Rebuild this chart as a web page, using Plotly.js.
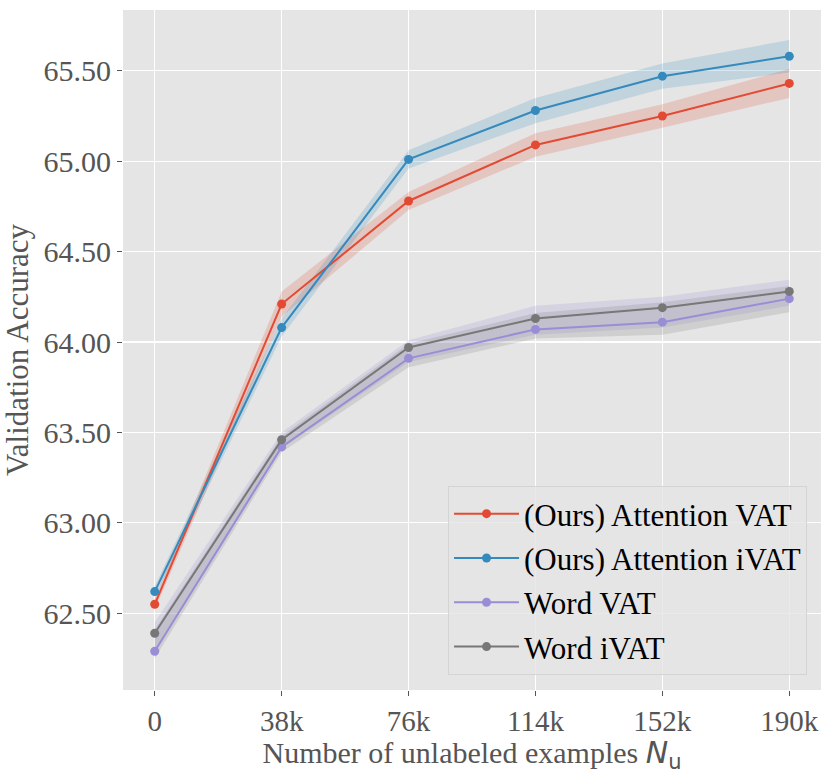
<!DOCTYPE html>
<html>
<head>
<meta charset="utf-8">
<script src="https://cdn.plot.ly/plotly-3.0.1.min.js"></script>
<style>
  html, body { margin: 0; padding: 0; background: #fff; }
  #chart { width: 831px; height: 774px; }
</style>
</head>
<body>
<div id="chart"></div>
<script>
const examples = [0, 38000, 76000, 114000, 152000, 190000];
const exampleLabels = ['0', '38k', '76k', '114k', '152k', '190k'];

const attnVat = [62.55, 64.21, 64.78, 65.09, 65.25, 65.43];
const attnVatStd = [0.03, 0.07, 0.05, 0.065, 0.065, 0.08];

const attnIvat = [62.62, 64.08, 65.01, 65.28, 65.47, 65.58];
const attnIvatStd = [0.03, 0.05, 0.05, 0.07, 0.07, 0.09];

const wordVat = [62.29, 63.42, 63.91, 64.07, 64.11, 64.24];
const wordVatLo = [62.28, 63.41, 63.89, 64.04, 64.08, 64.20];
const wordVatHi = [62.45, 63.50, 64.01, 64.20, 64.25, 64.345];

const wordIvat = [62.39, 63.46, 63.97, 64.13, 64.19, 64.28];
const wordIvatLo = [62.25, 63.39, 63.86, 64.02, 64.04, 64.165];
const wordIvatHi = [62.41, 63.48, 63.99, 64.16, 64.22, 64.31];

const serif = 'Liberation Serif, Times New Roman, serif';

const colors = {
    red: '#E24A33',
    blue: '#348ABD',
    purple: '#988ED5',
    gray: '#777777'
};

function band(lo, hi, fill) {
    return {
        x: examples.concat(examples.slice().reverse()),
        y: hi.concat(lo.slice().reverse()),
        type: 'scatter',
        mode: 'lines',
        fill: 'toself',
        fillcolor: fill,
        line: { width: 0, color: 'rgba(0,0,0,0)' },
        hoverinfo: 'skip',
        showlegend: false
    };
}

function series(name, values, color, group) {
    return {
        x: examples,
        y: values,
        name: name,
        legendgroup: group,
        type: 'scatter',
        mode: 'lines+markers',
        line: { color: color, width: 2 },
        marker: { color: color, size: 9 }
    };
}

function lo(v, s) { return v.map((d, i) => d - s[i]); }
function hi(v, s) { return v.map((d, i) => d + s[i]); }

const traces = [
    band(lo(attnVat, attnVatStd), hi(attnVat, attnVatStd), 'rgba(226,74,51,0.2)'),
    band(lo(attnIvat, attnIvatStd), hi(attnIvat, attnIvatStd), 'rgba(52,138,189,0.2)'),
    band(wordVatLo, wordVatHi, 'rgba(152,142,213,0.2)'),
    band(wordIvatLo, wordIvatHi, 'rgba(119,119,119,0.2)'),
    series('(Ours) Attention VAT', attnVat, colors.red, 'a'),
    series('(Ours) Attention iVAT', attnIvat, colors.blue, 'b'),
    series('Word VAT', wordVat, colors.purple, 'c'),
    series('Word iVAT', wordIvat, colors.gray, 'd')
];

const layout = {
    width: 831,
    height: 774,
    margin: { l: 123, r: 10, t: 10, b: 84 },
    paper_bgcolor: '#ffffff',
    plot_bgcolor: '#E5E5E5',
    font: { family: serif, size: 30, color: '#555555' },
    showlegend: true,
    xaxis: {
        range: [-9500, 199500],
        tickvals: examples,
        ticktext: exampleLabels,
        showgrid: true,
        gridcolor: '#ffffff',
        gridwidth: 1.2,
        zeroline: false,
        ticks: 'outside',
        ticklen: 5,
        tickcolor: '#555555',
        tickfont: { family: serif, size: 29, color: '#555555' },
        title: {
            text: 'Number of unlabeled examples <span style="font-family:DejaVu Sans"><i>N</i><sub>u</sub></span>',
            font: { family: serif, size: 30, color: '#555555' },
            standoff: 9
        }
    },
    yaxis: {
        range: [62.076, 65.836],
        tick0: 62.5,
        dtick: 0.5,
        tickformat: '.2f',
        showgrid: true,
        gridcolor: '#ffffff',
        gridwidth: 1.2,
        zeroline: false,
        ticks: 'outside',
        ticklen: 5,
        tickcolor: '#555555',
        tickfont: { family: serif, size: 30, color: '#555555' },
        title: {
            text: 'Validation Accuracy',
            font: { family: serif, size: 31, color: '#555555' },
            standoff: 6
        }
    },
    legend: {
        x: 0.98,
        y: 0.022,
        xanchor: 'right',
        yanchor: 'bottom',
        bgcolor: 'rgba(229,229,229,0.8)',
        bordercolor: '#d4d4d4',
        borderwidth: 1,
        font: { family: serif, size: 31, color: '#000000' },
        traceorder: 'grouped',
        tracegroupgap: 1,
        itemwidth: 65
    }
};

Plotly.newPlot('chart', traces, layout, { displayModeBar: false, staticPlot: true });
</script>
</body>
</html>
